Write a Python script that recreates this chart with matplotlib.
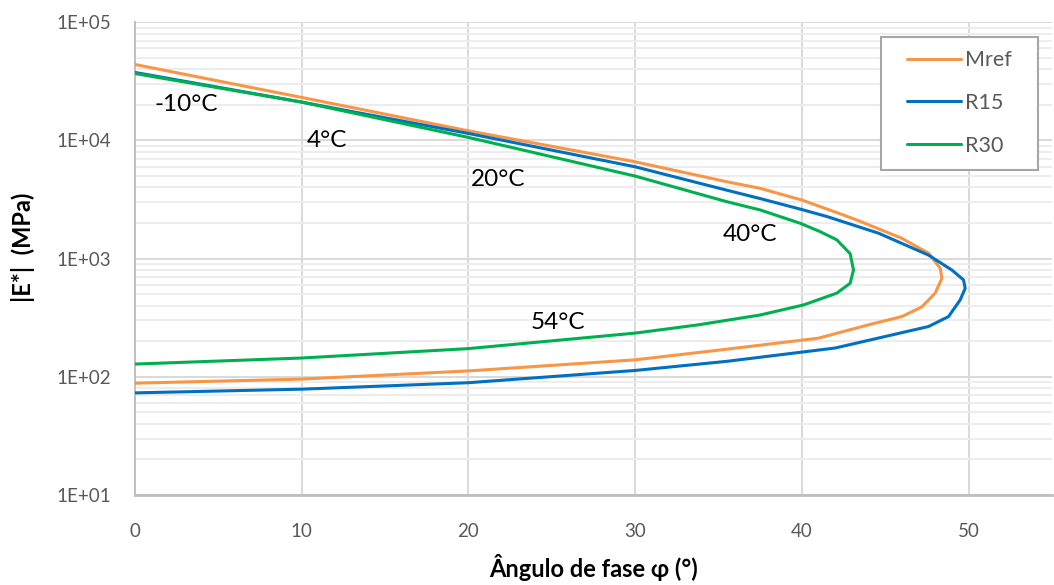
import numpy as np
import matplotlib
matplotlib.use("Agg")
import matplotlib.pyplot as plt
from matplotlib.patches import Rectangle
from matplotlib.ticker import FixedLocator, FuncFormatter, NullFormatter

plt.rcParams['font.family'] = ['Lato', 'DejaVu Sans']

# Black space curves (phase angle vs |E*|)
mref_phi = [0, 10, 20, 30, 35.5, 37.5, 40, 42.1, 43.3, 46.0, 47.6, 48.3, 48.4, 48.0, 47.2, 46.0, 44.0, 41.0, 35.5, 30, 20, 10, 0]
mref_E = [43900, 23100, 12050, 6590, 4470, 3930, 3130, 2450, 2120, 1485, 1110, 830, 680, 510, 390, 323, 275, 212, 171, 139, 112, 95.5, 88.2]

r15_phi = [0, 10, 20, 30, 35.5, 37.5, 40, 41.5, 44.6, 47.6, 49.0, 49.7, 49.8, 49.5, 48.8, 47.6, 45.0, 42.0, 35.5, 30, 20, 10, 0]
r15_E = [37600, 21100, 11450, 5980, 3790, 3220, 2600, 2270, 1640, 1070, 800, 660, 560, 447, 323, 266, 219, 175, 135, 113, 89, 78.5, 73]

r30_phi = [0, 10, 20, 30, 35.5, 37.5, 39.9, 41.1, 42.1, 42.9, 43.1, 42.9, 42.1, 40.1, 37.5, 33.8, 30, 20, 10, 0]
r30_E = [36800, 21100, 10600, 4990, 3030, 2580, 1990, 1690, 1440, 1100, 800, 618, 510, 405, 333, 275, 234, 173, 144, 128]

temp_labels = ['-10°C', '4°C', '20°C', '40°C', '54°C']
temp_x = [3.1, 11.5, 21.8, 36.9, 25.4]
temp_y = [20300, 10000, 4710, 1610, 286]

x_ticks = [0, 10, 20, 30, 40, 50]
y_ticks = [1e1, 1e2, 1e3, 1e4, 1e5]

fig = plt.figure(figsize=(10.54, 5.85), dpi=100)
ax = fig.add_axes([0.128, 0.154, 0.870, 0.808])

style = dict(lw=2.2, solid_capstyle='round', solid_joinstyle='round', zorder=3)
ax.plot(mref_phi, mref_E, color='#F79646', label='Mref', **style)
ax.plot(r15_phi, r15_E, color='#0070C0', label='R15', **style)
ax.plot(r30_phi, r30_E, color='#00B050', label='R30', **style)

for t, x, y in zip(temp_labels, temp_x, temp_y):
    ax.text(x, y, t, fontsize=17.5, color='black', ha='center', va='center', zorder=4)

ax.set_yscale('log')
ax.set_xlim(0, 55)
ax.set_ylim(10, 1e5)
ax.xaxis.set_major_locator(FixedLocator(x_ticks))
ax.yaxis.set_major_locator(FixedLocator(y_ticks))
minors = [m * 10.0**d for d in range(1, 5) for m in range(2, 10)]
ax.yaxis.set_minor_locator(FixedLocator(minors))
ax.yaxis.set_minor_formatter(NullFormatter())
ax.yaxis.set_major_formatter(FuncFormatter(lambda v, p: f"{v:.0E}"))

ax.grid(which='major', axis='both', color='#D9D9D9', lw=1.4, zorder=0)
ax.grid(which='minor', axis='y', color='#EDEDED', lw=1.4, zorder=0)
ax.set_axisbelow(True)

ax.tick_params(which='both', length=0)
ax.tick_params(axis='x', pad=20, labelsize=13.5, labelcolor='#595959')
ax.tick_params(axis='y', pad=17, labelsize=13.5, labelcolor='#595959')

for s in ['top', 'right']:
    ax.spines[s].set_visible(False)
ax.spines['left'].set_color('#BFBFBF')
ax.spines['left'].set_linewidth(1.4)
ax.spines['bottom'].set_color('#BFBFBF')
ax.spines['bottom'].set_linewidth(2)

ax.set_xlabel('Ângulo de fase φ (°)', fontsize=17, fontweight='bold', labelpad=10)
ax.set_ylabel('|E*|  (MPa)', fontsize=17, fontweight='bold')
ax.yaxis.set_label_coords(-0.109, 0.523)

# legend box drawn separately so the padding matches the original
ax.add_patch(Rectangle((881 / 1054, 1 - 170 / 585), 157 / 1054, 133 / 585,
                       transform=fig.transFigure, facecolor='white', clip_on=False,
                       edgecolor='#A6A6A6', lw=1.5, zorder=5))
leg = ax.legend(loc='center left', bbox_to_anchor=(907 / 1054, 1 - 103 / 585),
                bbox_transform=fig.transFigure, fontsize=15.5, frameon=False,
                handlelength=2.5, labelspacing=1.05, borderpad=0, borderaxespad=0,
                handletextpad=0.2)
leg.set_zorder(6)
for txt in leg.get_texts():
    txt.set_color('#595959')

fig.savefig('out.png', dpi=100)
